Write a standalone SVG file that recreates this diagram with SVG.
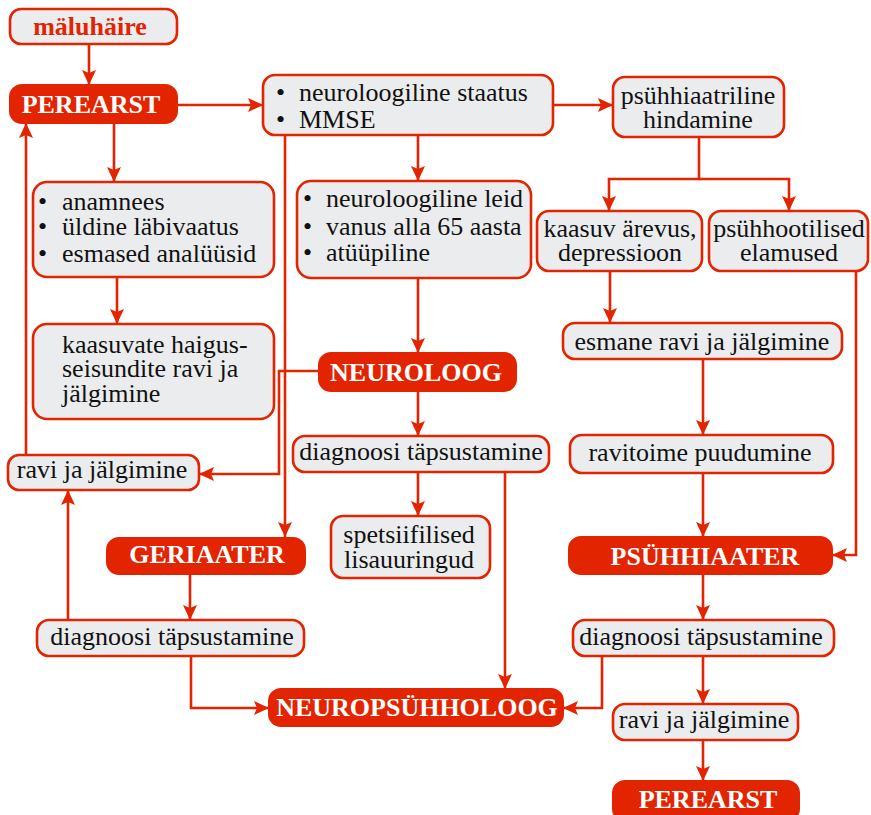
<svg xmlns="http://www.w3.org/2000/svg" width="871" height="815" viewBox="0 0 871 815">
<defs>
<style>
.box{fill:#ebecee;stroke:#e32400;stroke-width:2.6}
.red{fill:#e32400;stroke:#e32400;stroke-width:2}
.t{font-family:"Liberation Serif","Times New Roman",serif;font-size:26px;fill:#111}
.c{text-anchor:middle}
.b{font-family:"Liberation Serif","Times New Roman",serif;font-size:26px;font-weight:bold;fill:#fff;text-anchor:middle}
.rt{fill:#e32400}
.ln{fill:none;stroke:#e32400;stroke-width:2.6}
.ar{marker-end:url(#ah)}
</style>
<marker id="ah" markerUnits="userSpaceOnUse" markerWidth="16" markerHeight="14" refX="15" refY="7" orient="auto">
<path d="M0,0 L15,7 L0,14 L3,7 z" fill="#e32400"/>
</marker>
</defs>
<rect width="871" height="815" fill="#fff"/>
<g id="connectors">
<path class="ln ar" d="M89,44 V85"/>
<path class="ln ar" d="M177,105 H263"/>
<path class="ln ar" d="M553,105 H613"/>
<path class="ln ar" d="M418,135 V181"/>
<path class="ln ar" d="M285,135 V537"/>
<path class="ln ar" d="M114,123 V182"/>
<path class="ln ar" d="M117,277 V324"/>
<path class="ln ar" d="M26,455 V123"/>
<path class="ln ar" d="M699,137 V179 H609 V211"/>
<path class="ln ar" d="M699,179 H789 V211"/>
<path class="ln ar" d="M610,271 V323"/>
<path class="ln ar" d="M703,359 V435"/>
<path class="ln ar" d="M703,473 V537"/>
<path class="ln ar" d="M856,271 V555 H832"/>
<path class="ln ar" d="M418,278 V353"/>
<path class="ln ar" d="M418,391 V436"/>
<path class="ln ar" d="M319,371 H279 V474 H199"/>
<path class="ln ar" d="M418,472 V516"/>
<path class="ln ar" d="M505,472 V689"/>
<path class="ln ar" d="M190,574 V620"/>
<path class="ln ar" d="M68,620 V490"/>
<path class="ln ar" d="M191,656 V708 H269"/>
<path class="ln ar" d="M703,574 V620"/>
<path class="ln ar" d="M602,656 V708 H563"/>
<path class="ln ar" d="M703,656 V704"/>
<path class="ln ar" d="M703,740 V781"/>
</g>
<g id="maluhaire">
<rect class="box" x="10" y="9" width="167" height="35" rx="11"/>
<text class="b rt" x="90" y="35">mäluhäire</text>
</g>
<g id="perearst1">
<rect class="red" x="10" y="85" width="167" height="38" rx="12"/>
<text class="b" x="91" y="113">PEREARST</text>
</g>
<g id="neuro-status">
<rect class="box" x="263" y="75" width="290" height="60" rx="12"/>
<text class="t"><tspan x="276" y="101">•</tspan><tspan x="299" y="101">neuroloogiline staatus</tspan><tspan x="276" y="128">•</tspan><tspan x="299" y="128">MMSE</tspan></text>
</g>
<g id="psuhh-hindamine">
<rect class="box" x="613" y="77" width="171" height="60" rx="12"/>
<text class="t c"><tspan x="698" y="104">psühhiaatriline</tspan><tspan x="698" y="128">hindamine</tspan></text>
</g>
<g id="kaasuv">
<rect class="box" x="537" y="211" width="165" height="60" rx="12"/>
<text class="t c"><tspan x="620" y="237">kaasuv ärevus,</tspan><tspan x="620" y="261">depressioon</tspan></text>
</g>
<g id="psuhhootilised">
<rect class="box" x="709" y="211" width="159" height="60" rx="12"/>
<text class="t c"><tspan x="789" y="237">psühhootilised</tspan><tspan x="789" y="261">elamused</tspan></text>
</g>
<g id="anamnees">
<rect class="box" x="33" y="182" width="241" height="95" rx="14"/>
<text class="t"><tspan x="38" y="210">•</tspan><tspan x="62" y="210">anamnees</tspan><tspan x="38" y="235">•</tspan><tspan x="62" y="235">üldine läbivaatus</tspan><tspan x="38" y="262">•</tspan><tspan x="62" y="262">esmased analüüsid</tspan></text>
</g>
<g id="kaasuvate">
<rect class="box" x="33" y="324" width="241" height="95" rx="14"/>
<text class="t"><tspan x="62" y="353">kaasuvate haigus-</tspan><tspan x="62" y="377">seisundite ravi ja</tspan><tspan x="62" y="402">jälgimine</tspan></text>
</g>
<g id="ravi-left">
<rect class="box" x="8" y="455" width="191" height="35" rx="11"/>
<text class="t c" x="102" y="478">ravi ja jälgimine</text>
</g>
<g id="neuro-leid">
<rect class="box" x="297" y="181" width="234" height="97" rx="14"/>
<text class="t"><tspan x="303" y="207">•</tspan><tspan x="326" y="207">neuroloogiline leid</tspan><tspan x="303" y="235">•</tspan><tspan x="326" y="235">vanus alla 65 aasta</tspan><tspan x="303" y="261">•</tspan><tspan x="326" y="261">atüüpiline</tspan></text>
</g>
<g id="neuroloog">
<rect class="red" x="319" y="353" width="197" height="38" rx="12"/>
<text class="b" x="416" y="381">NEUROLOOG</text>
</g>
<g id="diag-mid">
<rect class="box" x="293" y="436" width="256" height="36" rx="12"/>
<text class="t c" x="421" y="460">diagnoosi täpsustamine</text>
</g>
<g id="spetsiifilised">
<rect class="box" x="331" y="516" width="159" height="62" rx="12"/>
<text class="t c"><tspan x="409" y="543">spetsiifilised</tspan><tspan x="409" y="568">lisauuringud</tspan></text>
</g>
<g id="geriaater">
<rect class="red" x="107" y="538" width="198" height="36" rx="12"/>
<text class="b" x="207" y="563">GERIAATER</text>
</g>
<g id="diag-left">
<rect class="box" x="37" y="620" width="267" height="36" rx="12"/>
<text class="t c" x="172" y="645">diagnoosi täpsustamine</text>
</g>
<g id="neuropsuhholoog">
<rect class="red" x="269" y="689" width="294" height="37" rx="12"/>
<text class="b" x="417" y="716">NEUROPSÜHHOLOOG</text>
</g>
<g id="esmane">
<rect class="box" x="563" y="323" width="279" height="36" rx="12"/>
<text class="t c" x="702" y="350">esmane ravi ja jälgimine</text>
</g>
<g id="ravitoime">
<rect class="box" x="570" y="435" width="263" height="38" rx="12"/>
<text class="t c" x="700" y="461">ravitoime puudumine</text>
</g>
<g id="psuhhiaater">
<rect class="red" x="569" y="537" width="263" height="37" rx="12"/>
<text class="b" x="705" y="565">PSÜHHIAATER</text>
</g>
<g id="diag-right">
<rect class="box" x="573" y="620" width="261" height="36" rx="12"/>
<text class="t c" x="701" y="645">diagnoosi täpsustamine</text>
</g>
<g id="ravi-right">
<rect class="box" x="613" y="704" width="185" height="36" rx="12"/>
<text class="t c" x="704" y="728">ravi ja jälgimine</text>
</g>
<g id="perearst2">
<rect class="red" x="613" y="781" width="186" height="40" rx="12"/>
<text class="b" x="708" y="808">PEREARST</text>
</g>
</svg>
